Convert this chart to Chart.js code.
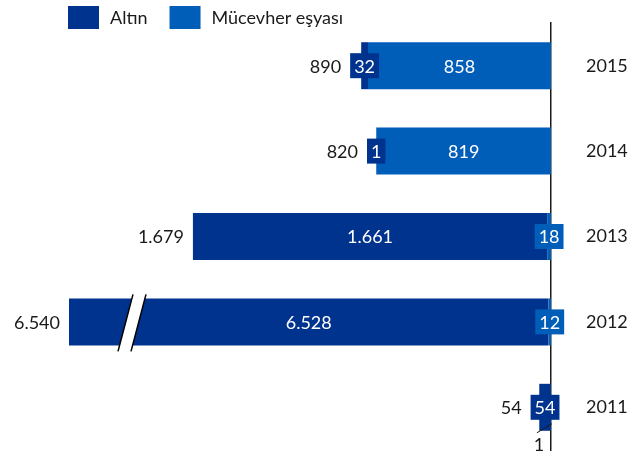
<!DOCTYPE html>
<html>
<head>
<meta charset="utf-8">
<script src="https://cdn.jsdelivr.net/npm/chart.js@4/dist/chart.umd.min.js"></script>
<style>
  html, body { margin: 0; padding: 0; background: #fff; }
  canvas { display: block; }
</style>
</head>
<body>
<canvas id="c" width="638" height="454"></canvas>
<script>
// data
var years = ['2015', '2014', '2013', '2012', '2011'];
var altin = [32, 1, 1661, 6528, 54];
var mucevher = [858, 819, 18, 12, 1];
var totals = [890, 820, 1679, 6540, 54];
// axis is cut here, the 2012 bar is drawn broken
var axisMax = 2260;

var DARK = '#00338e';
var LIGHT = '#005db8';
var FONT = '18px Lato';
var TEXT = '#1a1a1a';

function fmt(v) {
	return String(v).replace(/\B(?=(\d{3})+(?!\d))/g, '.');
}

var legendPlugin = {
	id: 'ownLegend',
	afterDraw: function(chart) {
		var ctx = chart.ctx;
		var items = [
			{ label: chart.data.datasets[1].label, color: chart.data.datasets[1].backgroundColor },
			{ label: chart.data.datasets[0].label, color: chart.data.datasets[0].backgroundColor }
		];
		var x = chart.chartArea.left - 1;
		ctx.save();
		ctx.font = FONT;
		ctx.textBaseline = 'middle';
		items.forEach(function(it) {
			ctx.fillStyle = it.color;
			ctx.fillRect(x, 6, 31, 23);
			ctx.fillStyle = TEXT;
			ctx.fillText(it.label, x + 42, 18);
			x += 42 + ctx.measureText(it.label).width + 22;
		});
		ctx.restore();
	}
};

var labelPlugin = {
	id: 'barLabels',
	afterDatasetsDraw: function(chart) {
		var ctx = chart.ctx;
		var area = chart.chartArea;
		var metas = [chart.getDatasetMeta(0), chart.getDatasetMeta(1)];
		ctx.save();
		ctx.font = FONT;
		ctx.textBaseline = 'middle';
		ctx.textAlign = 'center';

		years.forEach(function(y, i) {
			var segs = metas.map(function(m, d) {
				var bar = m.data[i];
				var a = Math.max(Math.min(bar.x, bar.base), area.left);
				var b = Math.min(Math.max(bar.x, bar.base), area.right);
				var txt = fmt(chart.data.datasets[d].data[i]);
				var w = ctx.measureText(txt).width + 8;
				return { a: a, b: b, cx: (a + b) / 2, txt: txt, w: w, bar: bar,
					color: chart.data.datasets[d].backgroundColor, over: w > b - a };
			});
			var bar = segs[0].bar;
			var top = bar.y - bar.height / 2, bottom = bar.y + bar.height / 2;
			var leftMost = Math.min(segs[0].a, segs[1].a);

			// both pieces too thin: the inner one goes under the bar
			var below = segs[0].over && segs[1].over;

			segs.forEach(function(s, d) {
				if (below && d === 0) {
					var lx = s.cx - 12, ly = bottom + 14;
					ctx.strokeStyle = TEXT;
					ctx.lineWidth = 1;
					ctx.beginPath();
					ctx.moveTo(lx - 2, bottom + 2);
					ctx.lineTo(s.cx + 1, bottom - 7);
					ctx.stroke();
					ctx.fillStyle = TEXT;
					ctx.fillText(s.txt, lx, ly);
					return;
				}
				if (s.over) {
					ctx.fillStyle = s.color;
					ctx.fillRect(s.cx - s.w / 2, bar.y - 12.5, s.w, 25);
					leftMost = Math.min(leftMost, s.cx - s.w / 2);
				}
				ctx.fillStyle = '#fff';
				ctx.fillText(s.txt, s.cx, bar.y + 1);
			});

			// broken bar mark
			var far = metas[1].data[i];
			if (Math.min(far.x, far.base) < area.left) {
				var x0 = area.left + 49;
				ctx.fillStyle = '#fff';
				ctx.beginPath();
				ctx.moveTo(x0, bottom + 6);
				ctx.lineTo(x0 + 15, top - 4);
				ctx.lineTo(x0 + 28, top - 4);
				ctx.lineTo(x0 + 13, bottom + 6);
				ctx.closePath();
				ctx.fill();
				ctx.strokeStyle = '#000';
				ctx.lineWidth = 1.5;
				ctx.beginPath();
				ctx.moveTo(x0, bottom + 6);
				ctx.lineTo(x0 + 15, top - 4);
				ctx.moveTo(x0 + 13, bottom + 6);
				ctx.lineTo(x0 + 28, top - 4);
				ctx.stroke();
			}

			ctx.textAlign = 'right';
			ctx.fillStyle = TEXT;
			ctx.fillText(fmt(totals[i]), leftMost - 9, bar.y + 1);
			ctx.textAlign = 'center';
		});
		ctx.restore();
	}
};

new Chart(document.getElementById('c'), {
	type: 'bar',
	data: {
		labels: years,
		datasets: [
			{ label: 'Mücevher eşyası', data: mucevher, backgroundColor: LIGHT },
			{ label: 'Altın', data: altin, backgroundColor: DARK }
		]
	},
	options: {
		indexAxis: 'y',
		responsive: false,
		animation: false,
		layout: { padding: { left: 69, top: 23, bottom: 4, right: 0 } },
		datasets: { bar: { barPercentage: 0.55, categoryPercentage: 1, borderWidth: 0 } },
		plugins: {
			legend: { display: false },
			tooltip: { enabled: false }
		},
		scales: {
			x: {
				stacked: true,
				reverse: true,
				min: 0,
				max: axisMax,
				display: false
			},
			y: {
				stacked: true,
				position: 'right',
				grid: { display: false, drawTicks: false },
				border: { display: true, color: '#1a1a1a', width: 1.5 },
				ticks: { padding: 35, color: TEXT, font: { family: 'Lato', size: 18 } },
				afterFit: function(scale) {
					scale.width = 87;
					scale.paddingTop = 0;
					scale.paddingBottom = 0;
				}
			}
		}
	},
	plugins: [legendPlugin, labelPlugin]
});
</script>
</body>
</html>
